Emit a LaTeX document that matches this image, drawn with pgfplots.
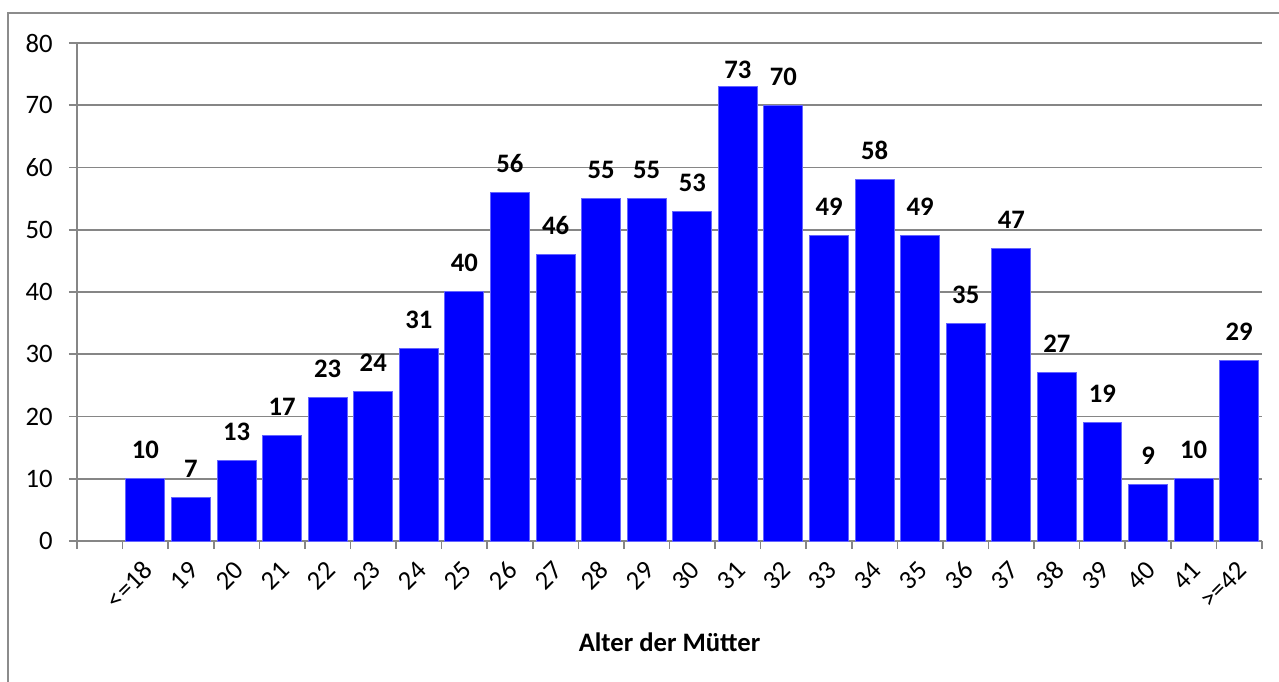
\documentclass[border=0pt]{standalone}
\usepackage{fontspec}
\setmainfont{Carlito}
\usepackage{pgfplots}
\usepackage{pgfplotstable}
\pgfplotsset{compat=1.18}
\definecolor{gridgray}{RGB}{134,134,134}
\definecolor{framegray}{RGB}{140,140,140}
\definecolor{barblue}{RGB}{0,0,255}
\definecolor{baredge}{RGB}{100,100,255}
\pgfplotstableread{
x y s
1 10 15
2 7 15
3 13 15
4 17 15
5 23 15
6 24 15
7 31 15
8 40 15
9 56 15
10 46 15
11 55 15
12 55 15
13 53 15
14 73 6.3
15 70 15
16 49 15
17 58 15
18 49 15
19 35 15
20 47 15
21 27 15
22 19 15
23 9 15
24 10 15
25 29 15
}\datatable
\begin{document}
\begin{tikzpicture}
\useasboundingbox (-57.75pt,-105.75pt) rectangle (901.5pt,405.75pt);
\draw[framegray, line width=0.9pt] (-51.75pt,-106pt) -- (-51.75pt,396pt) -- (902pt,396pt);
\begin{axis}[
  at={(0,0)}, anchor=south west,
  scale only axis, width=888.75pt, height=373.5pt,
  xmin=-0.5, xmax=25.5, ymin=0, ymax=80,
  axis x line*=bottom, axis y line*=left,
  axis line style={gridgray, line width=1.2pt},
  ytick={0,10,...,80},
  ymajorgrids, grid style={gridgray, line width=1.2pt},
  xtick={-0.5,0.5,...,25.5}, xticklabels={},
  extra x ticks={1,2,...,25},
  extra x tick labels={<=18,19,20,21,22,23,24,25,26,27,28,29,30,31,32,33,34,35,36,37,38,39,40,41,>=42},
  extra x tick style={major tick length=0pt, grid=none},
  tick align=outside, major tick length=6pt,
  tick style={gridgray, line width=1.2pt},
  /pgf/number format/assume math mode=true,
  tick label style={font=\fontsize{20}{24}\selectfont},
  yticklabel style={inner sep=0pt, xshift=-12pt},
  xticklabel style={inner sep=0pt, xshift=2.25pt, yshift=-18.5pt, rotate=45, anchor=east},
  xlabel={\textbf{Alter der Mütter}},
  xlabel style={at={(axis description cs:0.5,0)}, anchor=base, yshift=-83pt, font=\fontsize{20}{24}\selectfont},
  ybar, bar width=0.855,
]
\addplot[fill=barblue, draw=baredge, line width=0.75pt,
  nodes near coords,
  point meta=explicit,
  visualization depends on={\thisrow{s} \as \lsh},
  every node near coord/.append style={anchor=base, yshift=\lsh pt, font=\fontsize{20}{24}\selectfont\bfseries, /pgf/number format/assume math mode=true}
] table[x=x, y=y, meta=y] {\datatable};
\end{axis}
\end{tikzpicture}
\end{document}
